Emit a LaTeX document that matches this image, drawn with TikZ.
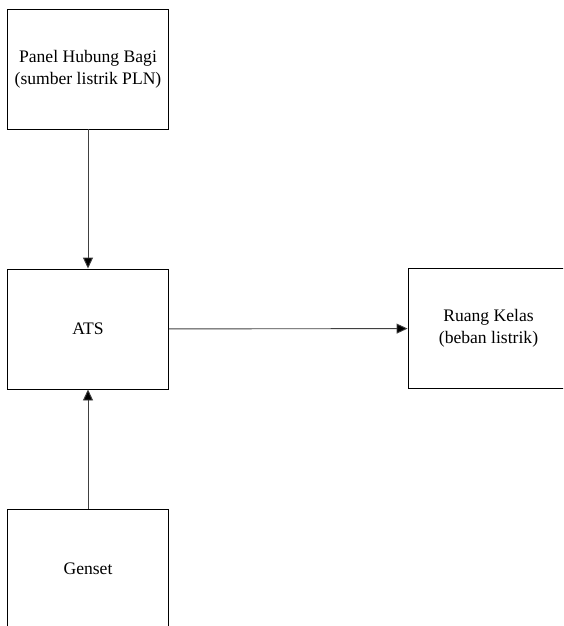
\documentclass[tikz,border=0pt]{standalone}
\usepackage{fontspec}
\setmainfont{Liberation Serif}
\usetikzlibrary{arrows.meta}
\begin{document}
\begin{tikzpicture}[x=1pt, y=-1pt,
        blok/.style={draw, shape=rectangle, line width=0.9pt, minimum width=161pt, minimum height=120pt, align=center, font=\fontsize{17.6}{21.7}\selectfont},
        panah/.style={draw=black!75, line width=0.9pt, -{Triangle[width=10pt,length=11pt,fill=black]}}]
            \useasboundingbox (0,0) rectangle (563,626);
            \clip (0,0) rectangle (563,626);

            \node[blok] (PHB) at (88, 69) {Panel Hubung Bagi\\(sumber listrik PLN)};
            \node[blok] (ATS) at (88, 329) {ATS};
            \node[blok] (RK) at (488.5, 328.5) {Ruang Kelas\\(beban listrik)};
            \node[blok] (GS) at (88, 569) {Genset};

            \draw[panah] (PHB) -- (ATS);
            \draw[panah] (GS) -- (ATS);
            \draw[panah] (ATS) -- (RK);
        \end{tikzpicture}
\end{document}
